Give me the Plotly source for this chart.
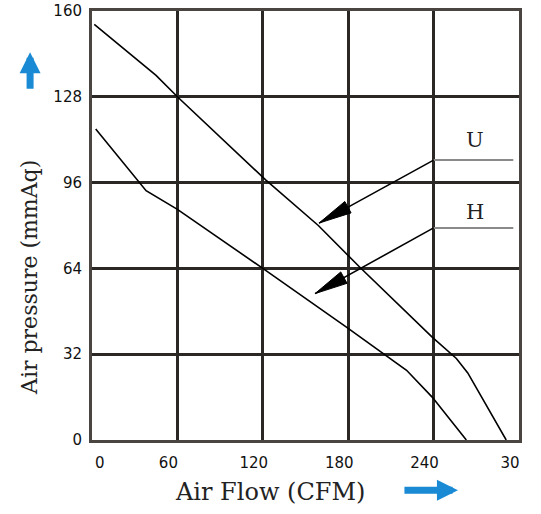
import plotly.graph_objects as go

# curve data (CFM vs mmAq)
u_flow = [1.6, 45, 60, 122, 159, 188, 239, 256, 264, 291]
u_pressure = [155, 136, 128, 97, 80, 64.5, 38.4, 30.4, 25, 0]

h_flow = [2.6, 38, 60, 120, 179, 208, 221, 239, 263]
h_pressure = [116, 93, 86, 64, 42, 31, 26, 16, 0]

x_ticks = [0, 60, 120, 180, 240, 300]
# the "0" sits right of the axis in the original, padded with no-break spaces
x_tick_labels = ["\u00a0" * 7 + "0", "60", "120", "180", "240", "30"]
y_ticks = [0, 32, 64, 96, 128, 160]
y_tick_labels = ["0", "32", "64", "96", "128", "160"]

grid_color = "#2b2724"
serif = "DejaVu Serif"

# plot area size in px, used to keep the pointer heads slender
W, H = 427, 429
X_RANGE, Y_RANGE = 300, 160


def pointer_head(tail, tip, length=33, half_width=6.5):
    # triangle path (data coords) pointing from tail to tip
    sx, sy = W / X_RANGE, H / Y_RANGE
    dx = (tip[0] - tail[0]) * sx
    dy = (tip[1] - tail[1]) * sy
    n = (dx ** 2 + dy ** 2) ** 0.5
    ux, uy = dx / n, dy / n
    bx, by = -ux * length, -uy * length
    px, py = -uy * half_width, ux * half_width
    pts = [(0, 0), (bx + px, by + py), (bx - px, by - py)]
    coords = [(tip[0] + a / sx, tip[1] + b / sy) for a, b in pts]
    return "M {} {} L {} {} L {} {} Z".format(*[v for p in coords for v in p])


fig = go.Figure()
fig.add_trace(go.Scatter(x=u_flow, y=u_pressure, mode="lines", name="U",
                         line=dict(color="black", width=1.6)))
fig.add_trace(go.Scatter(x=h_flow, y=h_pressure, mode="lines", name="H",
                         line=dict(color="black", width=1.6)))

pointers = [((240, 104.4), (159.5, 80.9)), ((240, 79.1), (156.7, 54.6))]
for tail, tip in pointers:
    fig.add_shape(type="line", x0=tail[0], x1=296, y0=tail[1], y1=tail[1],
                  line=dict(color="#8a8a8a", width=2), layer="above")
    fig.add_shape(type="line", x0=tail[0], y0=tail[1], x1=tip[0], y1=tip[1],
                  line=dict(color="black", width=1.6), layer="above")
    fig.add_shape(type="path", path=pointer_head(tail, tip),
                  fillcolor="black", line=dict(color="black", width=1),
                  layer="above")

fig.add_annotation(x=269, y=112, text="U", showarrow=False,
                   font=dict(family=serif, size=21, color="#222"))
fig.add_annotation(x=269, y=85, text="H", showarrow=False,
                   font=dict(family=serif, size=21, color="#222"))

# axis titles
fig.add_annotation(x=0.417, y=-0.121, xref="paper", yref="paper",
                   xanchor="center", yanchor="middle",
                   text="Air Flow (CFM)", showarrow=False,
                   font=dict(family=serif, size=24, color="#222"))
fig.add_annotation(x=-0.145, y=0.378, xref="paper", yref="paper",
                   xanchor="center", yanchor="middle",
                   text="Air pressure (mmAq)", showarrow=False, textangle=-90,
                   font=dict(family=serif, size=22, color="#222"))

# blue direction arrows
fig.add_annotation(x=-0.145, y=0.904, xref="paper", yref="paper",
                   ax=0, ay=38, text="", showarrow=True, arrowhead=2,
                   arrowsize=0.6, arrowwidth=7, arrowcolor="#1a8ad4")
fig.add_annotation(x=0.857, y=-0.117, xref="paper", yref="paper",
                   ax=-55, ay=0, text="", showarrow=True, arrowhead=2,
                   arrowsize=0.6, arrowwidth=7, arrowcolor="#1a8ad4")

fig.update_xaxes(range=[0, 300], tickvals=x_ticks, ticktext=x_tick_labels,
                 showgrid=True, gridcolor=grid_color, gridwidth=2.5,
                 showline=True, linecolor="#4a4541", linewidth=3, mirror=True,
                 zeroline=False, ticks="", ticklabelshift=-9,
                 ticklabelstandoff=7, automargin=False,
                 ticklabeloverflow="allow",
                 tickfont=dict(family="DejaVu Sans", size=15, color="#111"))
fig.update_yaxes(range=[0, 160], tickvals=y_ticks, ticktext=y_tick_labels,
                 showgrid=True, gridcolor=grid_color, gridwidth=2.5,
                 showline=True, linecolor="#4a4541", linewidth=3, mirror=True,
                 zeroline=False, ticks="", ticklabelstandoff=4, automargin=False,
                 ticklabeloverflow="allow",
                 tickfont=dict(family="DejaVu Sans", size=15, color="#111"))

fig.update_layout(
    width=541, height=514,
    margin=dict(l=92, r=22, t=11, b=74),
    plot_bgcolor="white", paper_bgcolor="white",
    showlegend=False,
)

# drop the default 8px page margin so the figure fills the window
fig.write_html("out.html", config={"displayModeBar": False},
               post_script="document.body.style.margin='0px';")
